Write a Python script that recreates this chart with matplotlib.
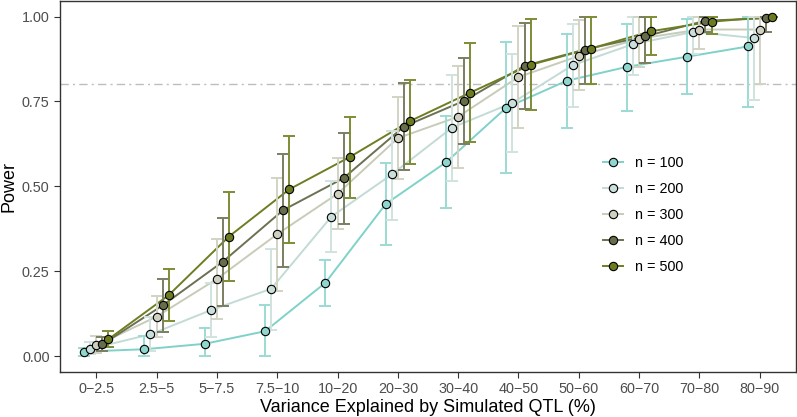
import matplotlib
matplotlib.use('Agg')
import matplotlib.pyplot as plt
import numpy as np

plt.rcParams['font.family'] = ['Liberation Sans', 'DejaVu Sans']

categories = ['0\u22122.5', '2.5\u22125', '5\u22127.5', '7.5\u221210', '10\u221220', '20\u221230',
              '30\u221240', '40\u221250', '50\u221260', '60\u221270', '70\u221280', '80\u221290']
labels = ['n = 100', 'n = 200', 'n = 300', 'n = 400', 'n = 500']

# power estimates per sample size
n100 = [0.013, 0.020, 0.036, 0.073, 0.216, 0.448, 0.571, 0.732, 0.811, 0.852, 0.882, 0.912]
n200 = [0.021, 0.064, 0.135, 0.198, 0.411, 0.535, 0.673, 0.746, 0.857, 0.919, 0.955, 0.937]
n300 = [0.031, 0.116, 0.227, 0.359, 0.478, 0.642, 0.705, 0.822, 0.884, 0.935, 0.962, 0.962]
n400 = [0.034, 0.149, 0.278, 0.430, 0.524, 0.676, 0.752, 0.855, 0.903, 0.942, 0.988, 0.995]
n500 = [0.049, 0.179, 0.352, 0.491, 0.586, 0.692, 0.776, 0.858, 0.906, 0.957, 0.985, 1.000]

# error bar limits
n100_lo = [0.0, 0.0, 0.0, 0.0, 0.148, 0.327, 0.437, 0.538, 0.673, 0.723, 0.772, 0.735]
n100_hi = [0.025, 0.060, 0.082, 0.151, 0.282, 0.569, 0.707, 0.924, 0.949, 0.979, 0.993, 1.0]
n200_lo = [0.005, 0.015, 0.057, 0.077, 0.306, 0.401, 0.516, 0.602, 0.735, 0.829, 0.890, 0.753]
n200_hi = [0.040, 0.115, 0.214, 0.316, 0.516, 0.664, 0.828, 0.890, 0.979, 1.0, 1.0, 1.0]
n300_lo = [0.010, 0.055, 0.109, 0.193, 0.374, 0.521, 0.555, 0.673, 0.783, 0.853, 0.906, 0.801]
n300_hi = [0.060, 0.177, 0.344, 0.524, 0.583, 0.762, 0.855, 0.971, 0.989, 1.0, 1.0, 1.0]
n400_lo = [0.015, 0.071, 0.148, 0.262, 0.390, 0.548, 0.624, 0.729, 0.802, 0.863, 0.954, 0.956]
n400_hi = [0.055, 0.226, 0.406, 0.596, 0.656, 0.805, 0.879, 0.981, 1.0, 1.0, 1.0, 1.0]
n500_lo = [0.027, 0.102, 0.221, 0.334, 0.466, 0.567, 0.632, 0.724, 0.802, 0.888, 0.950, 1.0]
n500_hi = [0.073, 0.257, 0.483, 0.648, 0.705, 0.814, 0.921, 0.994, 1.0, 1.0, 1.0, 1.0]

power = [n100, n200, n300, n400, n500]
lows = [n100_lo, n200_lo, n300_lo, n400_lo, n500_lo]
highs = [n100_hi, n200_hi, n300_hi, n400_hi, n500_hi]

line_cols = ['#7fd2c9', '#c3dbd6', '#c9cbb9', '#6c7152', '#6d7e22']
fill_cols = ['#8fd6cf', '#cadfdb', '#cfd0c0', '#676c4b', '#6a7c1f']
err_cols = ['#9bdad3', '#d0e3df', '#d2d3c3', '#7a7e62', '#7d8c35']

fig = plt.figure(figsize=(7.97, 4.17), dpi=100)
ax = fig.add_axes([0.0753, 0.108, 0.9234, 0.8896])

x = np.arange(len(categories))
offsets = [-0.2, -0.1, 0.0, 0.1, 0.2]

ax.axhline(0.8, color='#bdbdbd', lw=1.0, ls=(0, (6, 3, 1.5, 3)), zorder=1)

for i in range(5):
    xs = x + offsets[i]
    ax.plot(xs, power[i], color=line_cols[i], lw=1.4, zorder=2)
for i in range(5):
    xs = x + offsets[i]
    p = np.array(power[i])
    lo = p - np.array(lows[i])
    hi = np.array(highs[i]) - p
    ax.errorbar(xs, p, yerr=[lo, hi], fmt='none', ecolor=err_cols[i],
                elinewidth=1.4, capsize=4, capthick=1.4, zorder=3)
for i in range(5):
    xs = x + offsets[i]
    ax.plot(xs, power[i], 'o', ms=6, mfc=fill_cols[i], mec='black',
            mew=0.8, ls='none', zorder=4)

# legend handles
handles = []
for i in range(5):
    h, = ax.plot([], [], color=line_cols[i], lw=1.4, marker='o', ms=6,
                 mfc=fill_cols[i], mec='black', mew=0.8)
    handles.append(h)
ax.legend(handles, labels, loc='center left', bbox_to_anchor=(0.738, 0.423),
          frameon=False, fontsize=10.4, handlelength=1.4, handletextpad=0.8,
          labelspacing=0.82, borderpad=0, borderaxespad=0)

ax.set_xlim(-0.6, 11.6)
ax.set_ylim(-0.047, 1.046)
ax.set_xticks(x)
ax.set_xticklabels(categories)
ax.set_yticks([0, 0.25, 0.5, 0.75, 1.0])
ax.set_yticklabels(['0.00', '0.25', '0.50', '0.75', '1.00'])
ax.tick_params(colors='#333333', labelcolor='#4d4d4d', labelsize=10.4,
               length=4, width=0.8)
for s in ax.spines.values():
    s.set_color('#333333')
    s.set_linewidth(1.0)

ax.set_xlabel('Variance Explained by Simulated QTL (%)', fontsize=13, labelpad=2)
ax.set_ylabel('Power', fontsize=13, labelpad=3)

fig.savefig('out.png', dpi=100)
